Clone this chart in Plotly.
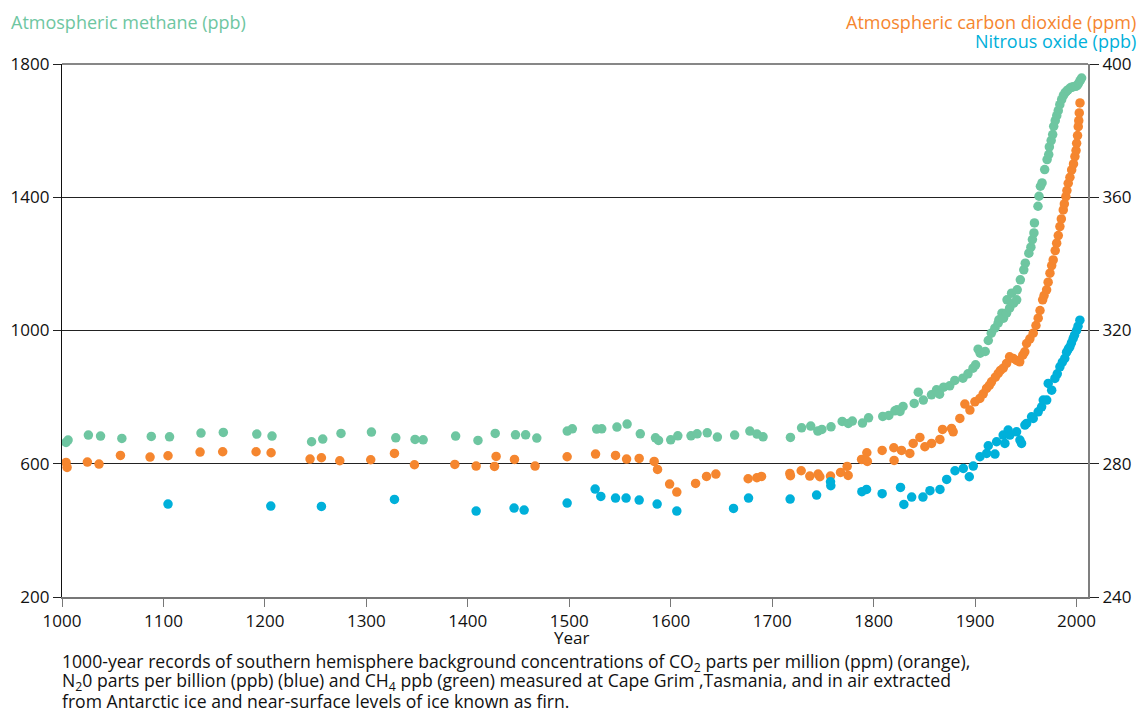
import plotly.graph_objects as go

# ---------------- data ----------------
ch4_year = [1004, 1006, 1026, 1038, 1059, 1088, 1106, 1137, 1159, 1192, 1207, 1246, 1257, 1275,
            1305, 1329, 1348, 1356, 1388, 1410, 1427, 1447, 1457, 1468, 1498, 1503, 1527, 1532,
            1547, 1557, 1570, 1585, 1588, 1600, 1607, 1620, 1626, 1636, 1646, 1663, 1678, 1685,
            1691, 1718, 1729, 1738, 1745, 1749, 1758, 1769, 1775, 1779, 1789, 1795, 1809, 1815,
            1821, 1823, 1826, 1829, 1840, 1844, 1849, 1857, 1862, 1865, 1869, 1875, 1880, 1888,
            1893, 1898, 1900.5, 1903, 1905, 1910, 1913, 1916, 1919.5, 1922.7, 1923.5, 1926.5, 1928,
            1931, 1931.5, 1934, 1936, 1938, 1941, 1941.5, 1944.6, 1948, 1949.5, 1953, 1955, 1956.5,
            1958, 1958.5, 1962, 1963, 1964.4, 1966, 1968.6, 1971, 1972.6, 1973.2, 1975, 1976.5,
            1977.5, 1979, 1980.5, 1982, 1983.5, 1985.3, 1987, 1988.6, 1990, 1991.5, 1993.6, 1995,
            1997, 1999, 2000.5, 2002, 2003.5, 2005]
ch4_ppb = [664, 671, 686, 683, 676, 682, 681, 692, 694, 689, 683, 666, 674, 691,
           695, 678, 673, 672, 683, 670, 691, 687, 687, 677, 698, 705, 704, 705,
           710, 719, 690, 678, 670, 672, 684, 684, 690, 693, 680, 686, 698, 689,
           681, 679, 708, 713, 698, 703, 711, 727, 721, 728, 722, 738, 742, 745,
           759, 762, 757, 772, 781, 815, 791, 807, 822, 809, 830, 834, 850, 857,
           870, 887, 897, 944, 932, 937, 970, 992, 1007, 1022, 1032, 1052, 1037,
           1052, 1092, 1067, 1112, 1082, 1092, 1122, 1152, 1182, 1202, 1232, 1250, 1273,
           1293, 1323, 1373, 1403, 1433, 1443, 1483, 1513, 1528, 1551, 1570, 1588,
           1613, 1630, 1645, 1660, 1678, 1693, 1705, 1713, 1718, 1722, 1728, 1730,
           1732, 1733, 1735, 1742, 1750, 1758]

co2_year = [1004, 1005, 1025, 1036.5, 1057.6, 1086.8, 1104.5, 1136.1, 1158.4, 1191.3, 1206.1,
            1244.5, 1255.7, 1273.8, 1304.3, 1327.7, 1347.4, 1387.2, 1408.2, 1426.3, 1427.9,
            1446.0, 1466.3, 1497.9, 1525.9, 1545.6, 1556.5, 1568.9, 1583.7, 1587.0, 1598.9,
            1606.0, 1624.5, 1635.3, 1644.5, 1676.3, 1684.9, 1689.5, 1717.4, 1718.0, 1728.6,
            1737.1, 1745.3, 1747.0, 1757.5, 1767.4, 1773.9, 1774.9, 1788.1, 1793.3, 1793.8,
            1808.4, 1819.9, 1820.2, 1827.5, 1835.7, 1839.0, 1845.6, 1850.5, 1857.1, 1865.3,
            1867.9, 1876.8, 1878.4, 1885.0, 1889.9, 1894.9, 1899.8, 1904.7, 1908, 1911.3, 1914,
            1916.2, 1920, 1922.8, 1925, 1927.7, 1931, 1934, 1937.6, 1941, 1944, 1947, 1949,
            1950.8, 1954, 1957.3, 1960, 1962.2, 1964, 1966.6, 1968, 1970.5, 1972, 1973.8, 1975.5,
            1977, 1979, 1980.4, 1982, 1983.6, 1985, 1986.9, 1988, 1989.5, 1990.5, 1991.8, 1993.5,
            1995.2, 1997, 1998.4, 1999.5, 2000.1, 2001, 2001.7, 2002.2, 2002.7, 2003.4]
co2_ppm = [280.4, 278.9, 280.5, 279.9, 282.5, 282.0, 282.4, 283.5, 283.6, 283.6, 283.3,
           281.4, 281.8, 280.9, 281.2, 283.1, 279.7, 279.8, 279.3, 279.2, 282.2,
           281.3, 279.3, 282.1, 282.9, 282.5, 281.4, 281.6, 280.7, 278.3, 273.9,
           271.5, 274.1, 276.2, 276.9, 275.5, 275.8, 276.2, 277.1, 276.4, 277.9,
           276.3, 276.9, 276.1, 276.3, 277.4, 279.2, 276.5, 281.3, 283.3, 280.7,
           284.0, 284.8, 281.0, 284.0, 283.1, 286.1, 287.9, 285.1, 286.1, 287.3,
           290.3, 290.6, 289.6, 293.6, 297.9, 296.1, 298.6, 299.6, 301.0, 302.6, 303.5,
           304.6, 306.0, 307.1, 308.0, 308.7, 310.1, 312.1, 311.6, 311.0, 310.6, 312.6, 313.6,
           316.1, 317.5, 319.2, 321.5, 323.7, 326.0, 329.2, 330.5, 332.2, 334.5, 337.2, 339.5,
           341.2, 344.0, 346.2, 348.5, 351.2, 353.5, 356.2, 358.0, 360.2, 362.0, 364.2, 366.0,
           368.2, 370.0, 372.2, 374.0, 376.2, 378.5, 381.2, 383.0, 385.3, 388.3]

n2o_year = [1104.5, 1205.8, 1255.7, 1327.7, 1408.2, 1445.6, 1455.5, 1497.9, 1525.5, 1531.1,
            1545.6, 1556.0, 1568.9, 1586.6, 1606.0, 1661.9, 1676.7, 1717.7, 1743.8, 1757.5,
            1757.8, 1788.4, 1793.0, 1808.4, 1826.5, 1829.8, 1837.5, 1848.6, 1855.5, 1865.4,
            1872.0, 1880.2, 1888.4, 1894.3, 1898.2, 1904.8, 1911.4, 1913.0, 1919.6, 1921.2,
            1927.7, 1929.4, 1932.6, 1934.3, 1940.9, 1944.2, 1945.8, 1949.1, 1950.8, 1955.7,
            1957.3, 1962.2, 1965.6, 1967.2, 1970.6, 1972.1, 1975.5, 1978.7, 1981, 1983.6, 1986,
            1988.4, 1990.2, 1992, 1993.4, 1995, 1996.7, 1998, 2000, 2001.5, 2003.3]
n2o_ppb = [267.9, 267.3, 267.2, 269.3, 265.8, 266.7, 266.1, 268.2, 272.4, 270.2,
           269.7, 269.7, 269.1, 267.9, 265.8, 266.6, 269.7, 269.4, 270.6, 274.6,
           273.4, 271.6, 272.3, 271.0, 272.9, 267.8, 270.0, 270.0, 271.9, 272.3,
           275.3, 277.9, 278.6, 276.1, 279.3, 282.1, 283.1, 285.4, 282.9, 286.6,
           288.6, 286.1, 290.1, 288.6, 289.6, 287.1, 286.1, 291.6, 292.1, 294.1,
           293.6, 295.6, 297.1, 299.1, 299.1, 304.1, 302.1, 305.6, 307.0, 309.1, 310.5,
           311.6, 313.5, 314.5, 315.1, 316.3, 317.6, 318.6, 320.0, 321.3, 323.1]

year_ticks = [1000, 1100, 1200, 1300, 1400, 1500, 1600, 1700, 1800, 1900, 2000]
left_ticks = [200, 600, 1000, 1400, 1800]
right_ticks = [240, 280, 320, 360, 400]

caption_lines = [
    "1000-year records of southern hemisphere background concentrations of CO<sub>2</sub> parts per million (ppm) (orange),",
    "N<sub>2</sub>0 parts per billion (ppb) (blue) and CH<sub>4</sub> ppb (green) measured at Cape Grim ,Tasmania, and in air extracted",
    "from Antarctic ice and near-surface levels of ice known as firn.",
]

GREEN = "#6ec6a1"
ORANGE = "#f5862f"
BLUE = "#00b0da"
FONT = "Open Sans"

# pixel geometry helpers for paper coordinates
PL, PR, PT, PB = 62, 1088, 64, 596.7
def px(x):
    return (x - PL) / (PR - PL)
def py(y):
    return (PB - y) / (PB - PT)

fig = go.Figure()
mk = dict(size=9.5, line=dict(width=0))
fig.add_trace(go.Scatter(x=ch4_year, y=ch4_ppb, mode="markers",
                         marker=dict(color=GREEN, **mk), yaxis="y", showlegend=False))
fig.add_trace(go.Scatter(x=co2_year, y=co2_ppm, mode="markers",
                         marker=dict(color=ORANGE, **mk), yaxis="y2", showlegend=False))
fig.add_trace(go.Scatter(x=n2o_year, y=n2o_ppb, mode="markers",
                         marker=dict(color=BLUE, **mk), yaxis="y2", showlegend=False))

annotations = [
    dict(text="Atmospheric methane (ppb)", xref="paper", yref="paper", x=px(9), y=py(22),
         xanchor="left", yanchor="middle", showarrow=False,
         font=dict(color=GREEN, size=18, family=FONT)),
    dict(text="Atmospheric carbon dioxide (ppm)", xref="paper", yref="paper", x=px(1138),
         y=py(22), xanchor="right", yanchor="middle", showarrow=False,
         font=dict(color=ORANGE, size=18, family=FONT)),
    dict(text="Nitrous oxide (ppb)", xref="paper", yref="paper", x=px(1138), y=py(41),
         xanchor="right", yanchor="middle", showarrow=False,
         font=dict(color=BLUE, size=18, family=FONT)),
    dict(text="Year", xref="paper", yref="paper", x=px(571), y=py(637),
         xanchor="center", yanchor="middle", showarrow=False,
         font=dict(size=17, family=FONT, color="#111")),
]
for i, line in enumerate(caption_lines):
    annotations.append(dict(text=line, xref="paper", yref="paper", x=px(60), y=py(662.5 + 19 * i),
                            xanchor="left", yanchor="middle", align="left", showarrow=False,
                            font=dict(size=17.6, family=FONT, color="#111")))

fig.update_layout(
    width=1146, height=713,
    margin=dict(l=62, r=58, t=64, b=116.3),
    paper_bgcolor="white", plot_bgcolor="white",
    font=dict(family=FONT, size=17, color="#111"),
    xaxis=dict(range=[1000, 2011.3], tickvals=year_ticks, showgrid=False, zeroline=False,
               showline=True, linecolor="#777", linewidth=1.5, ticks="outside", ticklen=8,
               tickcolor="#777", tickwidth=1, tickfont=dict(size=17, family=FONT)),
    yaxis=dict(range=[200, 1800], tickvals=left_ticks, showgrid=True, gridcolor="#222",
               gridwidth=1, zeroline=False, showline=True, linecolor="#111", linewidth=1.2,
               ticks="outside", ticklen=8, tickcolor="#222", tickfont=dict(size=17, family=FONT)),
    yaxis2=dict(range=[240, 400], tickvals=right_ticks, overlaying="y", side="right",
                showgrid=False, zeroline=False, showline=True, linecolor="#7f7f7f", linewidth=2,
                ticks="outside", ticklen=9, tickcolor="#222", tickfont=dict(size=17, family=FONT)),
    shapes=[dict(type="line", xref="paper", yref="paper", x0=0, x1=1, y0=1, y1=1,
                 line=dict(color="#111", width=1.2))],
    annotations=annotations,
)

fig.write_html("out.html")
